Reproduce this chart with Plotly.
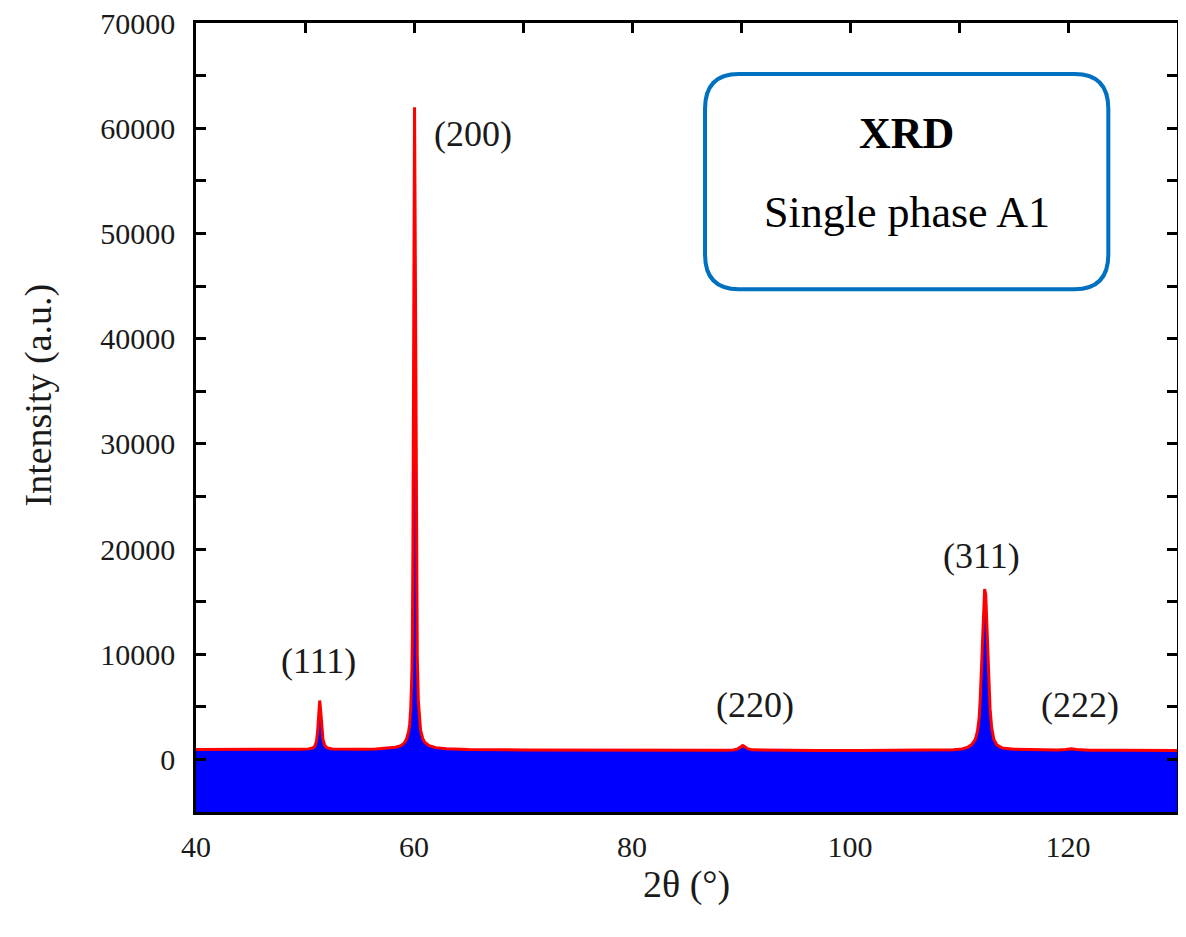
import plotly.graph_objects as go

# ---- data ----
two_theta = [40, 42, 44, 46, 48, 49.5, 50.3, 50.7, 50.9, 51.05, 51.15, 51.25, 51.35, 51.45,
             51.55, 51.65, 51.8, 52.0, 52.5, 53.5, 55, 56.5, 57.5, 58.3, 58.8, 59.1, 59.3,
             59.5, 59.6, 59.7, 59.8, 59.85, 59.9, 59.95, 60.0, 60.05, 60.1, 60.15, 60.2,
             60.25, 60.3, 60.4, 60.5, 60.6, 60.8, 61.0, 61.4, 62.0, 63, 65, 70, 75, 80, 85,
             88, 89.3, 89.7, 90.0, 90.15, 90.3, 90.6, 91.0, 93, 97, 101, 105, 108, 109.5,
             110.3, 110.8, 111.2, 111.5, 111.7, 111.85, 111.95, 112.05, 112.15, 112.25,
             112.35, 112.45, 112.55, 112.65, 112.75, 112.85, 113.0, 113.2, 113.5, 114.0,
             115, 117, 119, 119.8, 120.3, 120.8, 122, 125, 128, 130]
intensity = [950, 940, 930, 930, 940, 960, 1000, 1080, 1250, 1700, 2600, 4200, 5600, 4500,
             2900, 1900, 1350, 1120, 1000, 960, 960, 990, 1050, 1150, 1300, 1550, 1900,
             2600, 3300, 4800, 8000, 11500, 20000, 33000, 50000, 62000, 52000, 36000, 23000,
             14500, 9800, 5600, 3700, 2800, 2000, 1600, 1300, 1120, 1020, 950, 900, 880, 870, 860,
             870, 900, 1000, 1200, 1320, 1250, 1020, 910, 870, 850, 840, 850, 880, 920,
             1000, 1150, 1450, 1900, 2700, 4000, 5800, 8500, 11500, 14500,
             16200, 15700, 13300, 10000, 7000, 4800, 3000, 1900, 1350, 1080,
             960, 900, 900, 950, 1020, 940, 880, 860, 850, 850]

peak_labels = ["(111)", "(200)", "(220)", "(311)", "(222)"]
peak_label_x = [51.2, 65.4, 91.3, 112.1, 121.1]
peak_label_y = [9400, 59450, 5130, 19370, 5130]

x_range = [40, 130]
y_range = [-5000, 70000]
x_ticks = [40, 60, 80, 100, 120]
y_ticks = [0, 10000, 20000, 30000, 40000, 50000, 60000, 70000]

box_title = "XRD"
box_text = "Single phase A1"

FONT = "Liberation Serif, Times New Roman, serif"

fig = go.Figure()

# floor of the fill (bottom of the y axis)
fig.add_trace(go.Scatter(x=x_range, y=[y_range[0], y_range[0]], mode="lines",
                         line=dict(width=0, color="rgba(0,0,0,0)"),
                         hoverinfo="skip", showlegend=False))
fig.add_trace(go.Scatter(x=two_theta, y=intensity, mode="lines",
                         line=dict(color="#FF0000", width=3),
                         fill="tonexty", fillcolor="#0000FF",
                         showlegend=False))

for t, xx, yy in zip(peak_labels, peak_label_x, peak_label_y):
    fig.add_annotation(x=xx, y=yy, text=t, showarrow=False,
                       font=dict(family=FONT, size=36, color="#1a1a1a"),
                       xanchor="center", yanchor="middle")

# rounded info box (data coordinates)
bx0, bx1, by0, by1 = 86.7, 123.7, 44700, 65150
rx, ry = 3.1, 3300
path = (f"M {bx0+rx},{by0} L {bx1-rx},{by0} Q {bx1},{by0} {bx1},{by0+ry} "
        f"L {bx1},{by1-ry} Q {bx1},{by1} {bx1-rx},{by1} L {bx0+rx},{by1} "
        f"Q {bx0},{by1} {bx0},{by1-ry} L {bx0},{by0+ry} Q {bx0},{by0} {bx0+rx},{by0} Z")
fig.add_shape(type="path", path=path, xref="x", yref="y",
              line=dict(color="#0070C0", width=4), fillcolor="white")
fig.add_annotation(x=(bx0 + bx1) / 2, y=59540, text=f"<b>{box_title}</b>", showarrow=False,
                   font=dict(family=FONT, size=44, color="black"))
fig.add_annotation(x=(bx0 + bx1) / 2, y=51950, text=box_text, showarrow=False,
                   font=dict(family=FONT, size=44, color="black"))

# axis titles
fig.add_annotation(xref="paper", yref="paper", x=0.5, y=-0.092, text="2θ (°)",
                   showarrow=False, font=dict(family=FONT, size=38, color="#1a1a1a"),
                   xanchor="center", yanchor="middle")
fig.add_annotation(xref="paper", yref="paper", x=-0.161, y=0.528, text="Intensity (a.u.)",
                   showarrow=False, textangle=-90,
                   font=dict(family=FONT, size=38, color="#1a1a1a"),
                   xanchor="center", yanchor="middle")

fig.update_layout(
    width=1170, height=921, autosize=False,
    margin=dict(l=188, r=1, t=15, b=117, autoexpand=False),
    paper_bgcolor="white", plot_bgcolor="white",
    font=dict(family=FONT, color="#1a1a1a"),
    showlegend=False,
)
fig.update_xaxes(range=x_range, tickvals=x_ticks, ticks="inside", ticklen=10, tickwidth=2.5,
                 tickcolor="black", showline=True, linecolor="black", linewidth=2.5,
                 mirror="ticks", showgrid=False, zeroline=False, layer="below traces",
                 tickfont=dict(family=FONT, size=30, color="#1a1a1a"),
                 ticklabelstandoff=6, automargin=False, ticklabeloverflow="allow",
                 minor=dict(dtick=10, ticks="inside", ticklen=10, tickwidth=2.5,
                            tickcolor="black", showgrid=False))
fig.update_yaxes(range=y_range, tickvals=y_ticks, tickformat="d", ticks="inside",
                 ticklen=10, tickwidth=2.5,
                 tickcolor="black", showline=True, linecolor="black", linewidth=2.5,
                 mirror="ticks", showgrid=False, zeroline=False,
                 tickfont=dict(family=FONT, size=30, color="#1a1a1a"),
                 ticklabelstandoff=12, automargin=False, ticklabeloverflow="allow",
                 minor=dict(dtick=5000, ticks="inside", ticklen=10, tickwidth=2.5,
                            tickcolor="black", showgrid=False))

fig.write_html("out.html")
